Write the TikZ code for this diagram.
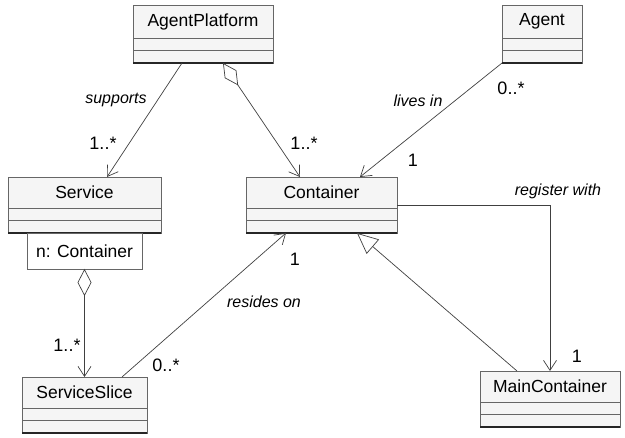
\documentclass[tikz,border=0pt]{standalone}
\usepackage{fontspec}
\setmainfont{Liberation Sans}
\usetikzlibrary{arrows.meta,calc}
\tikzset{
  classbox/.style={draw=black!60, fill=black!4, line width=0.9pt, inner sep=0pt, outer sep=0pt},
  notebox/.style={draw=black!60, fill=white, line width=0.9pt, inner sep=0pt, outer sep=0pt},
  cname/.style={font=\fontsize{17.5}{20}\selectfont, inner sep=0pt},
  lbl/.style={font=\fontsize{16}{19}\selectfont\itshape, inner sep=0pt},
  mult/.style={font=\fontsize{18}{20}\selectfont, inner sep=0pt},
  conn/.style={draw=black!75, line width=0.7pt},
  nav/.style={conn, -{Straight Barb[length=10pt,width=13pt]}},
  aggr/.style={conn, {Diamond[fill=white,length=27pt,width=14pt]}-{Straight Barb[length=10pt,width=13pt]}},
  gen/.style={conn, -{Triangle[fill=white,length=21pt,width=19pt]}},
}
\newcommand\umlclass[6]{%
  \node[classbox, anchor=north west, minimum width={#4-#2}, minimum height={#5-#3}] (#1) at (#2,#3) {};
  \draw[black!60, line width=0.9pt] ([yshift=25pt]#1.south west) -- ([yshift=25pt]#1.south east)
    ([yshift=13pt]#1.south west) -- ([yshift=13pt]#1.south east);
  \draw[black!85, line width=1.6pt] (#1.south west) -- (#1.south east);
  \node[cname] (#1-name) at ($(#1.north)!0.5!([yshift=25pt]#1.south)$) {#6};
}
\begin{document}
\begin{tikzpicture}[x=1pt,y=-1pt]
\useasboundingbox (0,0) rectangle (625,438);
% classes
\umlclass{AP}{133}{5}{273}{63}{AgentPlatform}
\umlclass{Agent}{502}{5}{582}{63}{Agent}
\umlclass{Service}{8}{177}{161}{233}{Service}
\umlclass{Container}{246}{177}{397}{233}{Container}
\umlclass{SS}{22}{377}{147}{433}{ServiceSlice}
\umlclass{MC}{480}{371}{620}{427}{MainContainer}
\node[notebox, anchor=north west, minimum width=115, minimum height=36, font=\fontsize{17.5}{20}\selectfont] (nC) at (27,233) {n: Container};
% connectors
\draw[nav] ([xshift=-21pt]AP.south) -- ([xshift=22.5pt]Service.north);
\draw[aggr] ([xshift=20pt]AP.south) -- ([xshift=-21.5pt]Container.north);
\draw[nav] (Agent.south west) -- ([xshift=38.5pt]Container.north);
\draw[nav] (Container.east) -| (MC.north);
\draw[gen] ([xshift=-33pt]MC.north) -- ([xshift=35.5pt]Container.south);
\draw[nav] ([xshift=37.5pt]SS.north) -- ([xshift=-35.5pt]Container.south);
\draw[aggr] (nC.south) -- (SS.north);
% labels
\node[lbl] (l1) at (116,100) {supports};
\node[mult] (m1) at (103,143) {1..*};
\node[mult] (m2) at (304,143) {1..*};
\node[lbl] (l2) at (418,101) {lives in};
\node[mult] (m3) at (511,88) {0..*};
\node[mult] (m4) at (413,160) {1};
\node[lbl] (l3) at (558,191) {register with};
\node[mult] (m5) at (577,356) {1};
\node[lbl] (l4) at (264,302) {resides on};
\node[mult] (m6) at (295,259) {1};
\node[mult] (m7) at (166,365) {0..*};
\node[mult] (m8) at (67,345) {1..*};
\end{tikzpicture}
\end{document}
